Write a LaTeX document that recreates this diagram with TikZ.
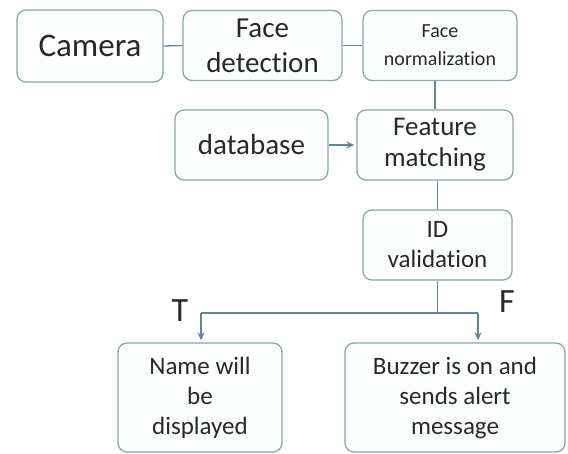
\documentclass[tikz,border=0pt]{standalone}
\usepackage{fontspec}
\setmainfont{Carlito}[Ligatures=NoCommon]
\usetikzlibrary{arrows.meta}
\definecolor{boxline}{RGB}{140,166,170}
\definecolor{conn}{RGB}{96,136,148}
\definecolor{tip}{RGB}{88,138,160}
\definecolor{txt}{RGB}{40,40,40}
\definecolor{boxfill}{RGB}{252,254,254}
\tikzset{
  box/.style={draw=boxline, line width=1.3pt, rounded corners=9pt, fill=boxfill,
    align=center, inner sep=0pt, text=txt},
  link/.style={draw=conn, line width=1.3pt},
  arrow/.style={link, -{Stealth[length=8pt,width=7pt]}, shorten >=2pt},
  lab/.style={text=txt, font=\fontsize{34}{36}\selectfont}
}
\begin{document}
\begin{tikzpicture}[x=1pt,y=-1pt]
\useasboundingbox (0,0) rectangle (568,454);
\node[box, minimum width=146pt, minimum height=72pt, font=\fontsize{33}{36}\selectfont] (cam) at (90,46) {Camera};
\node[box, minimum width=159pt, minimum height=70pt, font=\fontsize{29}{35}\selectfont] (fd) at (262.5,45.5) {Face\\detection};
\node[box, minimum width=154pt, minimum height=70pt, font=\fontsize{20}{28}\selectfont] (fn) at (440,45.5) {Face\\normalization};
\node[box, minimum width=153pt, minimum height=70pt, font=\fontsize{29}{35}\selectfont] (db) at (251.5,145) {database};
\node[box, minimum width=156pt, minimum height=70pt, font=\fontsize{27}{31}\selectfont] (fm) at (435,145) {Feature\\matching};
\node[box, minimum width=149pt, minimum height=70pt, font=\fontsize{25}{30}\selectfont] (id) at (437.5,245) {ID\\validation};
\node[box, minimum width=164pt, minimum height=109pt, font=\fontsize{25}{30}\selectfont] (name) at (200,397.5) {Name will\\be\\displayed};
\node[box, minimum width=220pt, minimum height=109pt, font=\fontsize{25}{30}\selectfont] (buz) at (455,397.5) {Buzzer is on and\\sends alert\\message};
\coordinate (tl) at (201,313);
\coordinate (tr) at (478,313);
\draw[link] (cam.east) -- (fd.west);
\draw[link] (fd.east) -- (fn.west);
\draw[link] (fn.south -| fm.north) -- (fm.north);
\draw[link] (fm.south -| id.north) -- (id.north);
\draw[arrow] (db.east) -- (fm.west);
\draw[link] (id.south) -- (id.south |- tl);
\draw[link] (tl) -- (tr);
\draw[arrow] (tl) -- (tl |- name.north);
\draw[arrow] (tr) -- (tr |- buz.north);
\node[lab] (T) at (180,311) {T};
\node[lab] (F) at (507,302) {F};
\end{tikzpicture}
\end{document}
